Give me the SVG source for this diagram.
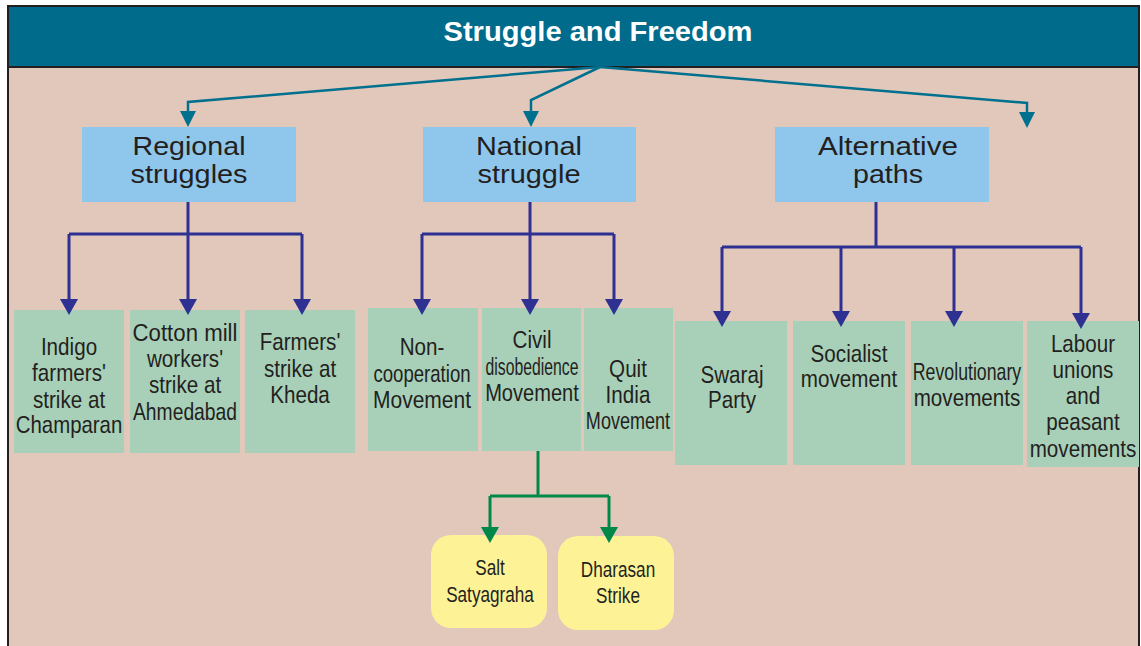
<svg xmlns="http://www.w3.org/2000/svg" width="1141" height="646" viewBox="0 0 1141 646">
<style>
.title{font-family:"Liberation Sans",Arial,sans-serif;font-weight:bold;font-size:28px;fill:#ffffff;text-anchor:middle}
.h{font-family:"Liberation Sans",Arial,sans-serif;font-size:26px;fill:#231f20;text-anchor:middle}
.t{font-family:"Liberation Sans",Arial,sans-serif;font-size:24px;fill:#231f20;text-anchor:middle}
.y{font-family:"Liberation Sans",Arial,sans-serif;font-size:22px;fill:#231f20;text-anchor:middle}
.blue{fill:#8fc6ec}
.green{fill:#a8d0b8}
.yellow{fill:#fdf396}
.teal{stroke:#00708e;stroke-width:2.5;fill:none}
.navy{stroke:#2e3192;stroke-width:3;fill:none}
.gr{stroke:#00884a;stroke-width:3;fill:none}
</style>
<defs>
<marker id="aTeal" markerUnits="userSpaceOnUse" markerWidth="16" markerHeight="16" viewBox="0 0 16 16" refX="0" refY="8" orient="auto"><path d="M0,0 L16,8 L0,16 z" fill="#00708e"/></marker>
<marker id="aNavy" markerUnits="userSpaceOnUse" markerWidth="16" markerHeight="18" viewBox="0 0 16 18" refX="0" refY="9" orient="auto"><path d="M0,0 L16,9 L0,18 z" fill="#2e3192"/></marker>
<marker id="aGreen" markerUnits="userSpaceOnUse" markerWidth="16" markerHeight="18" viewBox="0 0 16 18" refX="0" refY="9" orient="auto"><path d="M0,0 L16,9 L0,18 z" fill="#00884a"/></marker>
</defs>
<rect x="0" y="0" width="1141" height="646" fill="#ffffff"/>
<rect x="8" y="6" width="1131" height="660" fill="#e1c8ba" stroke="#231f20" stroke-width="2"/>
<g id="header">
<rect x="8" y="6" width="1131" height="61" fill="#006b8a" stroke="#231f20" stroke-width="2"/>
<text class="title" x="598" y="41" textLength="309" lengthAdjust="spacingAndGlyphs">Struggle and Freedom</text>
</g>
<g id="regional">
<rect class="blue" x="82" y="127" width="214" height="75"/>
<text class="h" x="189" y="155" textLength="113" lengthAdjust="spacingAndGlyphs">Regional</text>
<text class="h" x="189" y="183" textLength="117" lengthAdjust="spacingAndGlyphs">struggles</text>
</g>
<g id="national">
<rect class="blue" x="423" y="127" width="213" height="75"/>
<text class="h" x="529" y="155" textLength="106" lengthAdjust="spacingAndGlyphs">National</text>
<text class="h" x="529" y="183" textLength="103" lengthAdjust="spacingAndGlyphs">struggle</text>
</g>
<g id="alternative">
<rect class="blue" x="775" y="127" width="214" height="75"/>
<text class="h" x="888" y="155" textLength="140" lengthAdjust="spacingAndGlyphs">Alternative</text>
<text class="h" x="888" y="183" textLength="70" lengthAdjust="spacingAndGlyphs">paths</text>
</g>
<g id="indigo">
<rect class="green" x="14" y="310" width="110" height="143"/>
<g transform="translate(69 0) scale(0.86 1)">
<text class="t" x="0" y="355">Indigo</text>
<text class="t" x="0" y="381">farmers'</text>
<text class="t" x="0" y="408">strike at</text>
<text class="t" x="0" y="433" textLength="124" lengthAdjust="spacingAndGlyphs">Champaran</text>
</g>
</g>
<g id="cotton">
<rect class="green" x="130" y="310" width="110" height="143"/>
<g transform="translate(185 0) scale(0.86 1)">
<text class="t" x="0" y="341" textLength="122" lengthAdjust="spacingAndGlyphs">Cotton mill</text>
<text class="t" x="0" y="367">workers'</text>
<text class="t" x="0" y="393">strike at</text>
<text class="t" x="0" y="420" textLength="121" lengthAdjust="spacingAndGlyphs">Ahmedabad</text>
</g>
</g>
<g id="kheda">
<rect class="green" x="245" y="310" width="110" height="143"/>
<g transform="translate(300 0) scale(0.86 1)">
<text class="t" x="0" y="350">Farmers'</text>
<text class="t" x="0" y="377">strike at</text>
<text class="t" x="0" y="403">Kheda</text>
</g>
</g>
<g id="noncoop">
<rect class="green" x="368" y="308" width="110" height="143"/>
<g transform="translate(422 0) scale(0.86 1)">
<text class="t" x="0" y="355">Non-</text>
<text class="t" x="0" y="382" textLength="113" lengthAdjust="spacingAndGlyphs">cooperation</text>
<text class="t" x="0" y="408" textLength="114" lengthAdjust="spacingAndGlyphs">Movement</text>
</g>
</g>
<g id="civil">
<rect class="green" x="482" y="308" width="99" height="143"/>
<g transform="translate(532 0) scale(0.86 1)">
<text class="t" x="0" y="348">Civil</text>
<text class="t" x="0" y="375" textLength="108" lengthAdjust="spacingAndGlyphs">disobedience</text>
<text class="t" x="0" y="401" textLength="109" lengthAdjust="spacingAndGlyphs">Movement</text>
</g>
</g>
<g id="quit">
<rect class="green" x="584" y="308" width="89" height="143"/>
<g transform="translate(628 0) scale(0.86 1)">
<text class="t" x="0" y="377">Quit</text>
<text class="t" x="0" y="403">India</text>
<text class="t" x="0" y="429" textLength="98" lengthAdjust="spacingAndGlyphs">Movement</text>
</g>
</g>
<g id="swaraj">
<rect class="green" x="675" y="321" width="112" height="144"/>
<g transform="translate(732 0) scale(0.86 1)">
<text class="t" x="0" y="383">Swaraj</text>
<text class="t" x="0" y="408">Party</text>
</g>
</g>
<g id="socialist">
<rect class="green" x="793" y="321" width="112" height="144"/>
<g transform="translate(849 0) scale(0.86 1)">
<text class="t" x="0" y="362">Socialist</text>
<text class="t" x="0" y="387">movement</text>
</g>
</g>
<g id="revolutionary">
<rect class="green" x="911" y="321" width="112" height="144"/>
<g transform="translate(967 0) scale(0.86 1)">
<text class="t" x="0" y="380" textLength="126" lengthAdjust="spacingAndGlyphs">Revolutionary</text>
<text class="t" x="0" y="406">movements</text>
</g>
</g>
<g id="labour">
<rect class="green" x="1027" y="321" width="112" height="146"/>
<g transform="translate(1083 0) scale(0.86 1)">
<text class="t" x="0" y="352">Labour</text>
<text class="t" x="0" y="378">unions</text>
<text class="t" x="0" y="404">and</text>
<text class="t" x="0" y="430">peasant</text>
<text class="t" x="0" y="457">movements</text>
</g>
</g>
<g id="salt">
<rect class="yellow" x="431" y="535" width="116" height="93" rx="20"/>
<g transform="translate(490 0) scale(0.78 1)">
<text class="y" x="0" y="575">Salt</text>
<text class="y" x="0" y="602">Satyagraha</text>
</g>
</g>
<g id="dharasan">
<rect class="yellow" x="558" y="536" width="116" height="94" rx="20"/>
<g transform="translate(618 0) scale(0.78 1)">
<text class="y" x="0" y="577">Dharasan</text>
<text class="y" x="0" y="603">Strike</text>
</g>
</g>
<g id="connectors">
<path class="teal" d="M600,67 L188,102 L188,111" marker-end="url(#aTeal)"/>
<path class="teal" d="M600,67 L531,100 L531,111" marker-end="url(#aTeal)"/>
<path class="teal" d="M600,67 L1027,103 L1027,112" marker-end="url(#aTeal)"/>
<path class="navy" d="M188,202 L188,234"/>
<path class="navy" d="M69,234 L302,234"/>
<path class="navy" d="M69,234 L69,299" marker-end="url(#aNavy)"/>
<path class="navy" d="M188,234 L188,299" marker-end="url(#aNavy)"/>
<path class="navy" d="M302,234 L302,299" marker-end="url(#aNavy)"/>
<path class="navy" d="M530,202 L530,234"/>
<path class="navy" d="M422,234 L614,234"/>
<path class="navy" d="M422,234 L422,299" marker-end="url(#aNavy)"/>
<path class="navy" d="M530,234 L530,299" marker-end="url(#aNavy)"/>
<path class="navy" d="M614,234 L614,299" marker-end="url(#aNavy)"/>
<path class="navy" d="M876,202 L876,247"/>
<path class="navy" d="M722,247 L1081,247"/>
<path class="navy" d="M722,247 L722,311" marker-end="url(#aNavy)"/>
<path class="navy" d="M841,247 L841,311" marker-end="url(#aNavy)"/>
<path class="navy" d="M954,247 L954,311" marker-end="url(#aNavy)"/>
<path class="navy" d="M1081,247 L1081,313" marker-end="url(#aNavy)"/>
<path class="gr" d="M538,451 L538,496"/>
<path class="gr" d="M490,496 L609,496"/>
<path class="gr" d="M490,496 L490,527" marker-end="url(#aGreen)"/>
<path class="gr" d="M609,496 L609,527" marker-end="url(#aGreen)"/>
</g>
</svg>
